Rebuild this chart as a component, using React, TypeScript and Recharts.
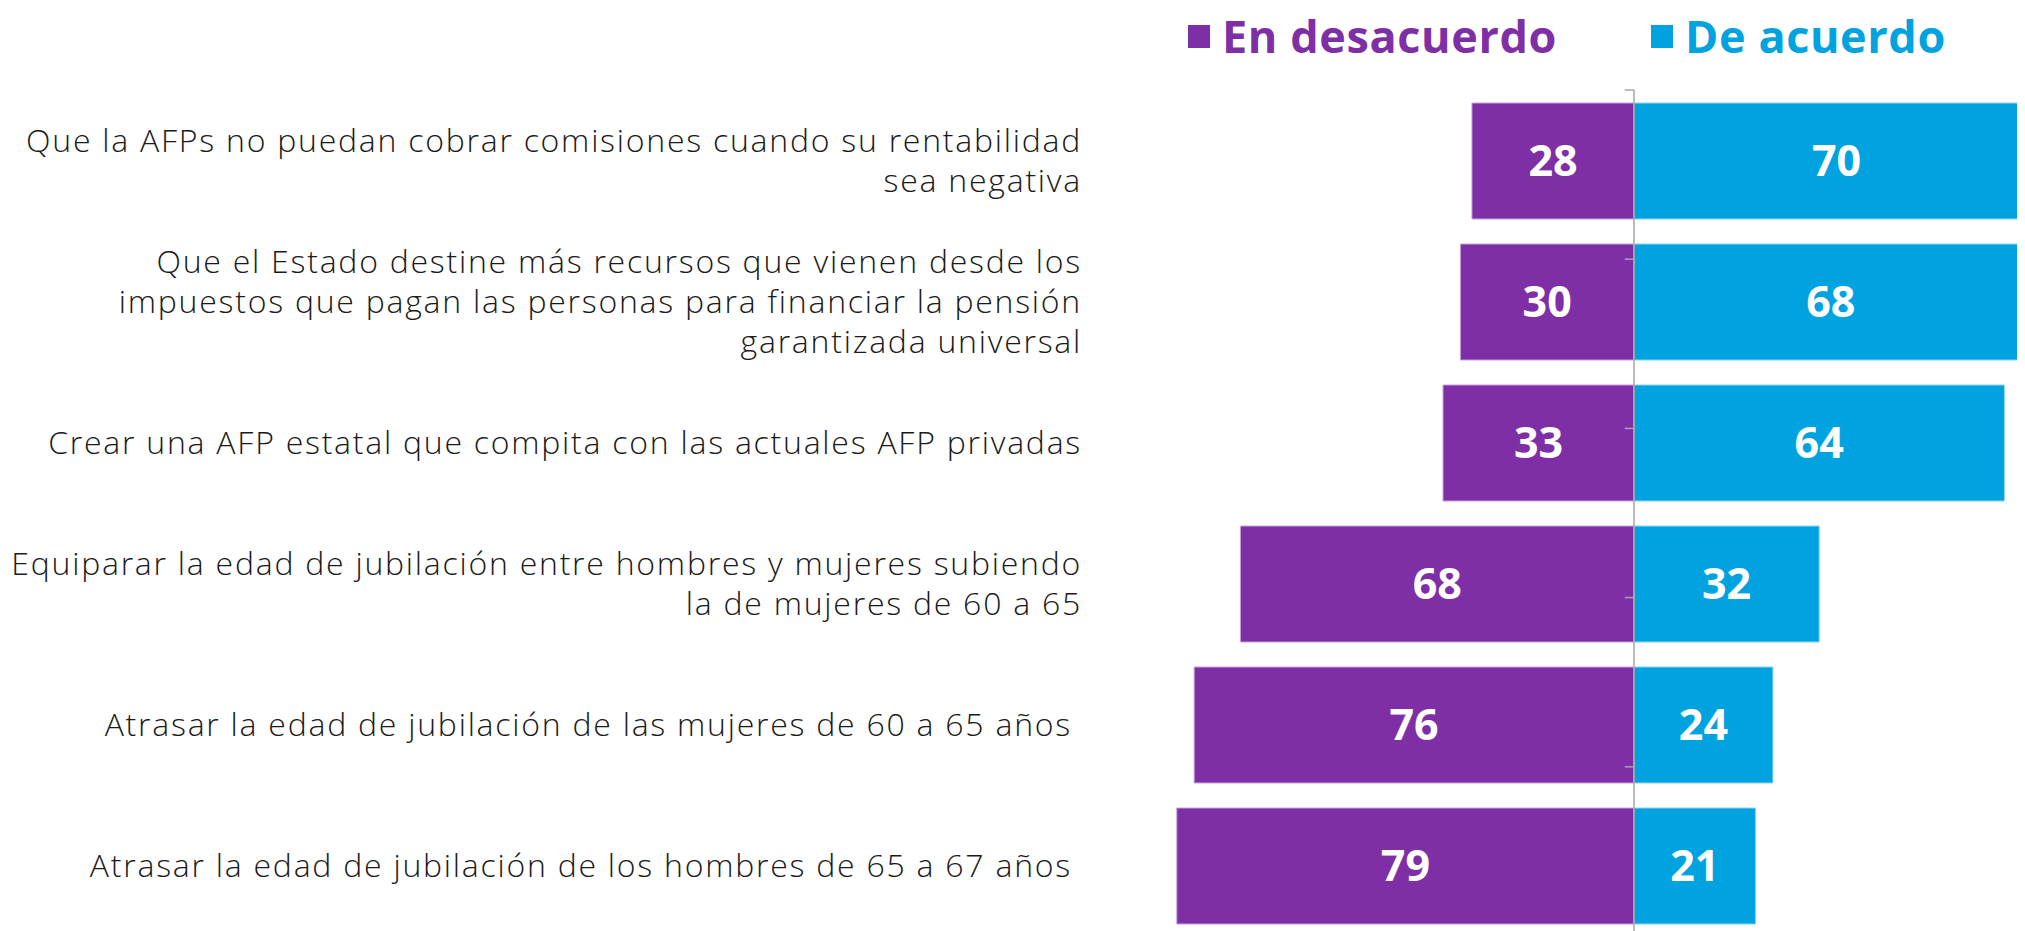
import React from "react";
import {
  BarChart,
  Bar,
  XAxis,
  YAxis,
  LabelList,
  ReferenceLine,
} from "recharts";

const categories = [
  "Que la AFPs no puedan cobrar comisiones cuando su rentabilidad\nsea negativa",
  "Que el Estado destine más recursos que vienen desde los\nimpuestos que pagan las personas para financiar la pensión\ngarantizada universal",
  "Crear una AFP estatal que compita con las actuales AFP privadas",
  "Equiparar la edad de jubilación entre hombres y mujeres subiendo\nla de mujeres de 60 a 65",
  "Atrasar la edad de jubilación de las mujeres de 60 a 65 años ",
  "Atrasar la edad de jubilación de los hombres de 65 a 67 años ",
];
const desacuerdo = [28, 30, 33, 68, 76, 79];
const deAcuerdo = [70, 68, 64, 32, 24, 21];
const seriesNames = ["En desacuerdo", "De acuerdo"];
const boundaries = [0, 1, 2, 3, 4, 5, 6];

const PURPLE = "#7F2FA6";
const BLUE = "#00A3E0";
const AXIS = "#A6A6A6";
const LABEL_FONT = "'Open Sans', sans-serif";
const BOLD_FONT = "'Open Sans', sans-serif";

const data = categories.map((cat, i) => ({
  cat,
  des: -desacuerdo[i],
  acu: deAcuerdo[i],
}));

function CatTick(props: any) {
  const { x, y, payload } = props;
  const lines = String(payload.value).split("\n");
  const lh = 40;
  const start = -((lines.length - 1) / 2) * lh;
  return (
    <text
      x={x}
      y={y}
      textAnchor="end"
      fill="#1a1a1a"
      fontFamily={LABEL_FONT}
      fontWeight={300}
      fontSize={32}
      letterSpacing={1.75}
      style={{ whiteSpace: "pre" }}
    >
      {lines.map((l, i) => (
        <tspan key={i} x={x} y={y + start + i * lh} dy="0.35em">
          {l}
        </tspan>
      ))}
    </text>
  );
}

const legendItems = [
  { name: seriesNames[0], color: PURPLE, left: 1180 },
  { name: seriesNames[1], color: BLUE, left: 1643 },
];

export default function App() {
  return (
    <div
      style={{
        position: "relative",
        width: 2017,
        height: 923,
        overflow: "hidden",
      }}
    >
      {legendItems.map((it) => (
        <div
          key={it.name}
          style={{
            position: "absolute",
            left: it.left,
            top: 2,
            display: "flex",
            alignItems: "center",
            whiteSpace: "nowrap",
            fontFamily: BOLD_FONT,
            fontWeight: 700,
            fontSize: 45,
            letterSpacing: 0.6,
            color: it.color,
            lineHeight: "52px",
          }}
        >
          <span
            style={{
              display: "inline-block",
              width: 22,
              height: 23,
              background: it.color,
              marginRight: 12,
            }}
          />
          <span>{it.name}</span>
        </div>
      ))}
      <BarChart
        layout="vertical"
        width={2200}
        height={930}
        data={data}
        margin={{ top: 82, right: 111, bottom: 2, left: 0 }}
        stackOffset="sign"
        barSize={116}
      >
        <XAxis type="number" domain={[-80, 80]} hide allowDataOverflow />
        <YAxis
          yAxisId="cat"
          type="category"
          dataKey="cat"
          width={1163}
          tickSize={0}
          tickMargin={89}
          axisLine={false}
          tickLine={false}
          interval={0}
          tick={CatTick}
        />
        <YAxis yAxisId="grid" type="number" domain={[0, 6]} hide />
        <Bar
          dataKey="des"
          name={seriesNames[0]}
          stackId="s"
          yAxisId="cat"
          fill={PURPLE}
          stroke="#C7A3DA"
          strokeWidth={1}
          isAnimationActive={false}
        >
          <LabelList
            dataKey="des"
            position="center"
            formatter={(v: any) => Math.abs(Number(v))}
            fill="#ffffff"
            fontSize={43}
            fontWeight={700}
            fontFamily={BOLD_FONT}
          />
        </Bar>
        <Bar
          dataKey="acu"
          name={seriesNames[1]}
          stackId="s"
          yAxisId="cat"
          fill={BLUE}
          stroke="#8FD3F0"
          strokeWidth={1}
          isAnimationActive={false}
        >
          <LabelList
            dataKey="acu"
            position="center"
            fill="#ffffff"
            fontSize={43}
            fontWeight={700}
            fontFamily={BOLD_FONT}
          />
        </Bar>
        <ReferenceLine x={0} yAxisId="cat" stroke={AXIS} strokeWidth={1.5} />
        {boundaries.map((b) => (
          <ReferenceLine
            key={b}
            yAxisId="grid"
            segment={[
              { x: -1.6, y: b },
              { x: 0, y: b },
            ]}
            stroke={AXIS}
            strokeWidth={1.5}
          />
        ))}
      </BarChart>
    </div>
  );
}
